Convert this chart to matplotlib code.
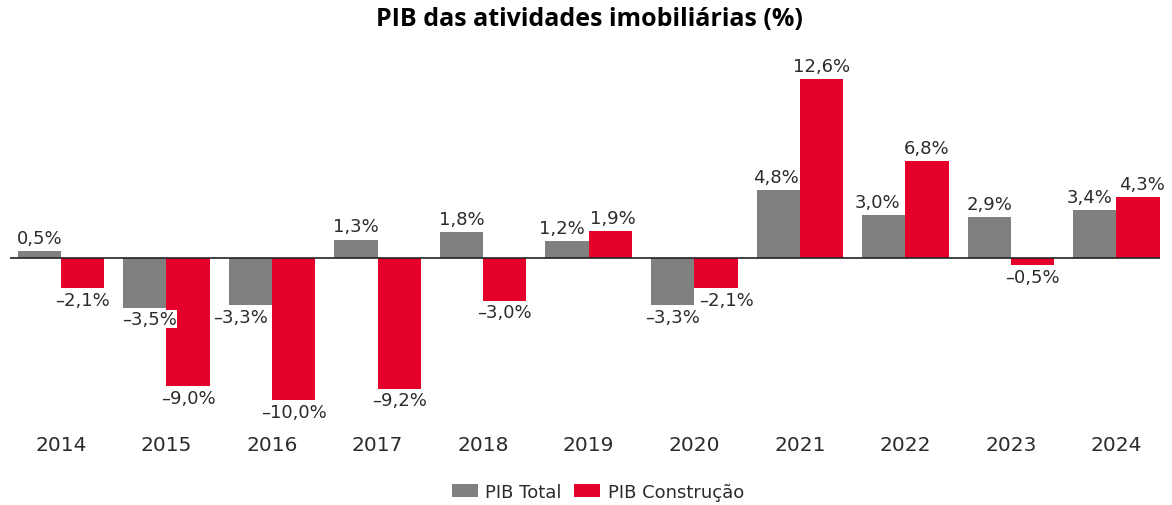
import matplotlib.pyplot as plt
import numpy as np

# Dados
anos = ["2014", "2015", "2016", "2017", "2018", "2019", "2020", "2021", "2022", "2023", "2024"]
pib_total = [0.5, -3.5, -3.3, 1.3, 1.8, 1.2, -3.3, 4.8, 3.0, 2.9, 3.4]
pib_construcao = [-2.1, -9.0, -10.0, -9.2, -3.0, 1.9, -2.1, 12.6, 6.8, -0.5, 4.3]

# pequenos deslocamentos horizontais dos rótulos (pixels) para evitar sobreposição
desloc_total = [0, 5, -10, 0, 0, -5, 0, -2, -6, 0, -5]
desloc_constr = [0, 0, 0, 0, 0, 3, 11, 0, 0, 0, 4]

cinza = "#808080"
vermelho = "#E4002B"
texto = "#2b2b2b"

plt.rcParams['font.family'] = ['DejaVu Sans']

fig = plt.figure(figsize=(11.72, 5.06), dpi=100)
ax = fig.add_axes([0.0085, 0.1514, 0.981, 0.7296])

x = np.arange(len(anos))
w = 0.41
b1 = ax.bar(x - w / 2, pib_total, w, color=cinza, label="PIB Total")
b2 = ax.bar(x + w / 2, pib_construcao, w, color=vermelho, label="PIB Construção")

ax.axhline(0, color="#222222", lw=1.2, zorder=3)


def fmt(v):
    return f"{v:.1f}%".replace(".", ",").replace("-", "\u2013")


# rótulos de valor
for bars, vals, desl in ((b1, pib_total, desloc_total), (b2, pib_construcao, desloc_constr)):
    for rect, v, d in zip(bars, vals, desl):
        cx = rect.get_x() + rect.get_width() / 2
        if v >= 0:
            off, va = 3, "bottom"
        else:
            off, va = -2, "top"
        ax.annotate(fmt(v), (cx, v), xytext=(d * 0.72, off), textcoords="offset points",
                    ha="center", va=va, fontsize=13, color=texto,
                    bbox=dict(boxstyle="square,pad=0.0", fc="white", ec="none"),
                    zorder=5)

ax.set_xlim(-0.483, 10.41)
ax.set_ylim(-12, 14)
ax.set_xticks(x)
ax.set_xticklabels(anos, fontsize=14.5, color=texto)
ax.tick_params(axis="x", length=0, pad=4.8)
ax.set_yticks([])
for s in ax.spines.values():
    s.set_visible(False)

fig.text(0.503, 1 - 19 / 506, "PIB das atividades imobiliárias (%)", fontsize=18,
         fontweight="bold", family=["Open Sans", "DejaVu Sans"], ha="center", va="center",
         color="black")

fig.legend(handles=[b1, b2], loc="center", bbox_to_anchor=(0.51, 0.026),
           ncol=2, frameon=False, fontsize=13, handlelength=1.45, handleheight=0.75,
           handletextpad=0.4, columnspacing=0.7, labelcolor=texto)

fig.savefig("out.png", dpi=100)
